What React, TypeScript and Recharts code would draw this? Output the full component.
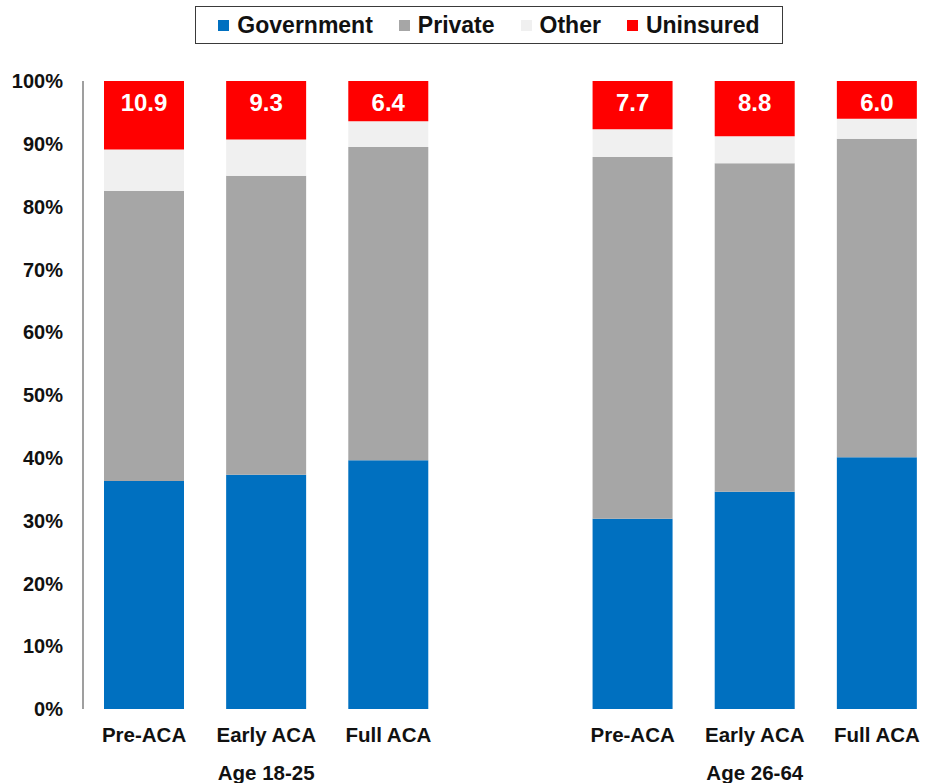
import { Bar, BarChart, LabelList, Legend, XAxis, YAxis } from "recharts";

const categories = ["Pre-ACA", "Early ACA", "Full ACA", "", "Pre-ACA", "Early ACA", "Full ACA"];
const groupLabels = ["Age 18-25", "Age 26-64"];
const government = [36.3, 37.3, 39.6, null, 30.3, 34.6, 40.1];
const privateIns = [46.2, 47.6, 49.9, null, 57.6, 52.3, 50.7];
const other = [6.6, 5.8, 4.1, null, 4.4, 4.3, 3.2];
const uninsured = [10.9, 9.3, 6.4, null, 7.7, 8.8, 6.0];
const yTicks = [0, 10, 20, 30, 40, 50, 60, 70, 80, 90, 100];

const series = [
  { key: "government", name: "Government", color: "#0070C0" },
  { key: "private", name: "Private", color: "#A6A6A6" },
  { key: "other", name: "Other", color: "#F0F0F0" },
  { key: "uninsured", name: "Uninsured", color: "#FF0000" },
];

const FONT = '"Liberation Sans", Arial, sans-serif';

const data = categories.map((c, i) => ({
  name: c,
  government: government[i],
  private: privateIns[i],
  other: other[i],
  uninsured: uninsured[i],
}));

const CategoryTick = (props: any) => {
  const { x, y, payload, index } = props;
  const group = index === 1 ? groupLabels[0] : index === 5 ? groupLabels[1] : null;
  return (
    <g>
      <text x={x} y={y + 33} textAnchor="middle" fontFamily={FONT} fontWeight="bold" fontSize={20.5} fill="#111">
        {payload.value}
      </text>
      {group && (
        <text x={x} y={y + 71} textAnchor="middle" fontFamily={FONT} fontWeight="bold" fontSize={20.5} fill="#111">
          {group}
        </text>
      )}
    </g>
  );
};

const LegendBox = () => (
  <div
    style={{
      boxSizing: "border-box",
      width: 588,
      height: 38,
      border: "1.5px solid #3a3a3a",
      display: "flex",
      alignItems: "center",
      justifyContent: "center",
      fontFamily: FONT,
      fontWeight: "bold",
      fontSize: 23,
      color: "#111",
    }}
  >
    {series.map((s, i) => (
      <div key={s.key} style={{ display: "flex", alignItems: "center", marginRight: i < series.length - 1 ? 26 : 0 }}>
        <span style={{ display: "inline-block", width: 11, height: 11, background: s.color, marginRight: 8 }} />
        <span>{s.name}</span>
      </div>
    ))}
  </div>
);

export default function App() {
  return (
    <div style={{ position: "absolute", left: 0, top: 0, width: 934, height: 783, background: "#fff" }}>
      <BarChart
        width={934}
        height={783}
        data={data}
        margin={{ top: 81, right: -4, bottom: 0, left: 0 }}
        barSize={80}
      >
        <Legend
          layout="horizontal"
          verticalAlign="middle"
          align="center"
          wrapperStyle={{ top: 6, left: 195, width: 588 }}
          content={() => <LegendBox />}
        />
        <XAxis
          dataKey="name"
          height={74}
          axisLine={false}
          tickLine={false}
          tickSize={0}
          tickMargin={0}
          interval={0}
          tick={CategoryTick}
        />
        <YAxis
          width={83}
          domain={[0, 100]}
          ticks={yTicks}
          interval={0}
          tickFormatter={(v) => `${v}%`}
          axisLine={{ stroke: "#7f7f7f", strokeWidth: 1.5 }}
          tickLine={false}
          tickSize={0}
          tickMargin={20}
          tick={{ fontFamily: FONT, fontWeight: "bold", fontSize: 20, fill: "#111" }}
        />
        {series.map((s) => (
          <Bar key={s.key} dataKey={s.key} name={s.name} stackId="a" fill={s.color} isAnimationActive={false}>
            {s.key === "uninsured" && (
              <LabelList
                dataKey="uninsured"
                content={(p: any) =>
                  p.value == null ? null : (
                    <text
                      x={p.x + p.width / 2}
                      y={p.y + 30}
                      textAnchor="middle"
                      fontFamily={FONT}
                      fontWeight="bold"
                      fontSize={24}
                      fill="#fff"
                    >
                      {Number(p.value).toFixed(1)}
                    </text>
                  )
                }
              />
            )}
          </Bar>
        ))}
      </BarChart>
    </div>
  );
}
